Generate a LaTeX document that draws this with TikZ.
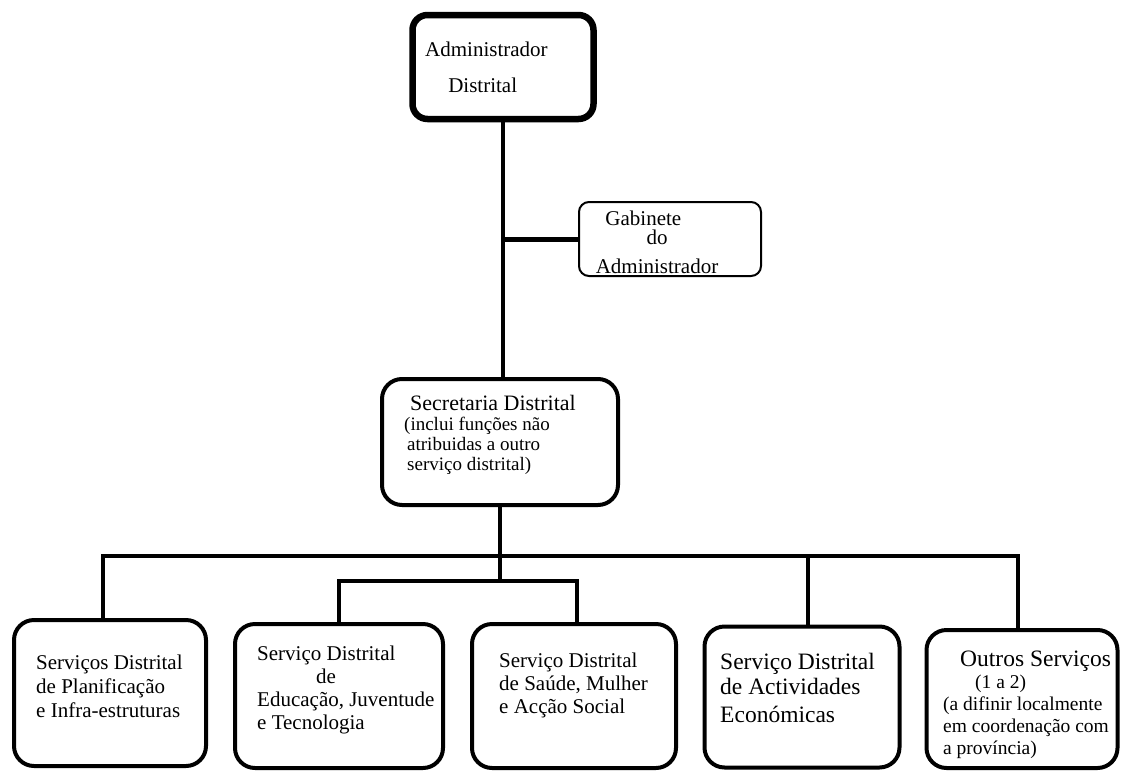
\documentclass[tikz,border=0pt]{standalone}
\usepackage{fontspec}
\setmainfont{Liberation Serif}

\begin{document}
\begin{tikzpicture}[
  x=1pt,
  y=-1pt,
  every node/.style={font=\fontsize{21}{23}\selectfont},
  orgbox/.style={draw, line width=4pt, rounded corners=20pt, inner sep=0pt},
  headbox/.style={orgbox, line width=6.5pt, rounded corners=15pt},
  sidebox/.style={orgbox, line width=2pt, rounded corners=10pt},
  boxtext/.style={anchor=west, align=left, inner sep=0pt},
  link/.style={line width=4pt}
]
  \useasboundingbox (0,0) rectangle (1122,774);

  \node[headbox, minimum width=181pt, minimum height=104pt] (admin) at (503,67) {};
  \node[sidebox, minimum width=182pt, minimum height=74pt] (gab) at (670,239) {};
  \node[orgbox, minimum width=236pt, minimum height=126pt] (sec) at (500,442) {};

  \node[orgbox, minimum width=192pt, minimum height=146pt] (s1) at (110,693) {};
  \node[orgbox, minimum width=208pt, minimum height=144pt] (s2) at (339,696) {};
  \node[orgbox, minimum width=204pt, minimum height=144pt] (s3) at (574,696) {};
  \node[orgbox, minimum width=195pt, minimum height=141pt] (s4) at (802,697) {};
  \node[orgbox, minimum width=191pt, minimum height=138pt] (s5) at (1022,699) {};

  \node[boxtext, font=\fontsize{21}{36}\selectfont] (admintxt) at (425,67)
    {Administrador\\\hspace*{1.1em}Distrital};
  \node[align=center, inner sep=0pt] (gabtxt) at (657,242)
    {Gabinete\hspace{1.3em}\mbox{}\\[-4pt]do\\[6pt]Administrador};
  \node[boxtext, font=\fontsize{19}{20}\selectfont] (sectxt) at (404,435)
    {\hspace*{6pt}{\fontsize{22}{22}\selectfont Secretaria Distrital}\\
     (inclui funções não\\
     \hspace*{3pt}atribuidas a outro\\
     \hspace*{3pt}serviço distrital)};

  \node[boxtext, font=\fontsize{21}{24}\selectfont] (s1txt) at (36,686)
    {Serviços Distrital\\de Planificação\\e Infra-estruturas};
  \node[boxtext] (s2txt) at (257,690)
    {Serviço Distrital\\\hspace*{2.8em}de\\Educação, Juventude\\e Tecnologia};
  \node[boxtext] (s3txt) at (499,685)
    {Serviço Distrital\\de Saúde, Mulher\\e Acção Social};
  \node[boxtext, font=\fontsize{23.5}{25}\selectfont] (s4txt) at (720,688)
    {Serviço Distrital\\de Actividades\\[3pt]Económicas};
  \node[boxtext, font=\fontsize{19.5}{22}\selectfont] (s5txt) at (943,705)
    {\hspace*{17pt}{\fontsize{23.5}{24}\selectfont Outros Serviços}\\
     \hspace*{32pt}(1 a 2)\\
     (a difinir localmente\\
     em coordenação com\\
     a província)};

  \coordinate (bus) at (500,556);
  \coordinate (subbus) at (500,581);

  \draw[link] (admin.south) -- (admin.south |- sec.north);
  \draw[link, line width=5pt] (admin.south |- gab.west) -- (gab.west);
  \draw[link] (sec.south) -- (subbus);
  \draw[link] ([xshift=-7pt]s1.north) |- (bus) -| ([xshift=-4pt]s5.north);
  \draw[link] ([xshift=6pt]s4.north |- bus) -- ([xshift=6pt]s4.north);
  \draw[link] (s2.north) |- (subbus) -| ([xshift=3pt]s3.north);
\end{tikzpicture}
\end{document}
